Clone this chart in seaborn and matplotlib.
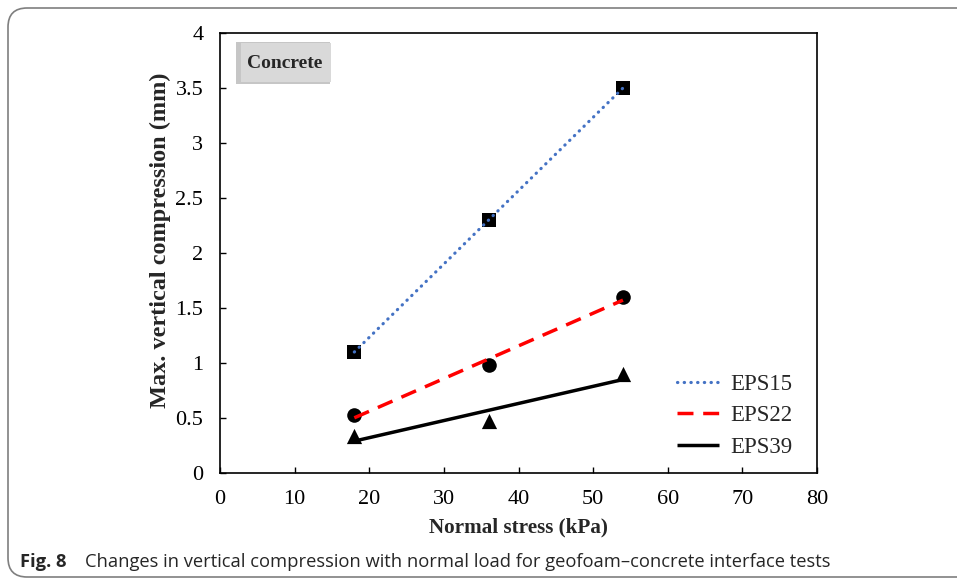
import matplotlib
matplotlib.use("Agg")
import matplotlib.pyplot as plt
import seaborn as sns
import pandas as pd
from matplotlib.patches import FancyBboxPatch, Rectangle

# ---- data ----
stress = [18, 36, 54]
eps15 = [1.1, 2.3, 3.5]
eps22 = [0.53, 0.98, 1.6]
eps39 = [0.34, 0.47, 0.9]
series_names = ["EPS15", "EPS22", "EPS39"]
x_ticks = [0, 10, 20, 30, 40, 50, 60, 70, 80]
y_ticks = [0, 0.5, 1, 1.5, 2, 2.5, 3, 3.5, 4]
y_ticklabels = ["0", "0.5", "1", "1.5", "2", "2.5", "3", "3.5", "4"]

sns.set_style("ticks")
plt.rcParams["font.family"] = ["Liberation Serif", "DejaVu Serif"]

W, H = 957, 581
fig = plt.figure(figsize=(W / 100, H / 100), dpi=100)
ax = fig.add_axes([220 / W, 1 - 473 / H, (817 - 220) / W, (473 - 33) / H])

series = [eps15, eps22, eps39]
markers = ["s", "o", "^"]
line_colors = ["#4472C4", "#FF0000", "#000000"]
line_styles = [(0, (0.1, 2.0)), (0, (4.6, 2.8)), "-"]
line_widths = [2.3, 2.5, 2.5]
capstyles = ["round", "butt", "butt"]
msizes = [110, 110, 120]

for name, vals, mk, col, ls, lw, cs, ms in zip(series_names, series, markers,
                                               line_colors, line_styles,
                                               line_widths, capstyles, msizes):
    df = pd.DataFrame({"stress": stress, "val": vals})
    sns.scatterplot(data=df, x="stress", y="val", marker=mk, color="black",
                    s=ms, edgecolor="black", linewidth=0, ax=ax, zorder=2,
                    legend=False)
    sns.regplot(data=df, x="stress", y="val", scatter=False, ci=None,
                color=col, label=name, ax=ax,
                line_kws=dict(linestyle=ls, linewidth=lw,
                              dash_capstyle=cs, solid_capstyle="butt",
                              zorder=3))

ax.set_xlim(0, 80)
ax.set_ylim(0, 4)
ax.set_xticks(x_ticks)
ax.set_xticklabels([str(t) for t in x_ticks])
ax.set_yticks(y_ticks)
ax.set_yticklabels(y_ticklabels)
ax.tick_params(direction="in", length=4, width=1, labelsize=16, color="black",
               labelcolor="black")
ax.tick_params(axis="x", pad=12)
ax.tick_params(axis="y", pad=12)
for sp in ax.spines.values():
    sp.set_visible(True)
    sp.set_color("black")
    sp.set_linewidth(1.2)

ax.set_xlabel("Normal stress (kPa)", fontsize=15.2, fontweight="bold", labelpad=6)
ax.set_ylabel("Max. vertical compression (mm)", fontsize=17.5, fontweight="bold")
ax.yaxis.set_label_coords((171 - 220) / (817 - 220), (473 - 240) / (473 - 33))

leg = ax.legend(loc="upper left", bbox_to_anchor=(656 / W, 1 - 353 / H),
                bbox_transform=fig.transFigure, frameon=False, fontsize=16.5,
                handlelength=1.85, labelspacing=0.47, handletextpad=0.5)

# "Concrete" label box with shadow
ax.add_patch(Rectangle((236 / W, 1 - 84 / H), 94 / W, 42 / H,
                       transform=fig.transFigure, facecolor="#b8b8b8",
                       edgecolor="none", alpha=0.8, zorder=4))
ax.add_patch(Rectangle((241 / W, 1 - 82 / H), 90 / W, 39 / H,
                       transform=fig.transFigure, facecolor="#d9d9d9",
                       edgecolor="none", zorder=5))
fig.text(285 / W, 1 - 63 / H, "Concrete", fontsize=14, fontweight="bold",
         ha="center", va="center", zorder=6)

# outer panel border
fig.patches.append(FancyBboxPatch((8 / W, 4 / H), 1.2, (577 - 8) / H,
                                  boxstyle="round,pad=0,rounding_size=0.02",
                                  transform=fig.transFigure, facecolor="none",
                                  edgecolor="#7f7f7f", linewidth=1.2,
                                  mutation_aspect=W / H))

# caption
fig.text(20 / W, 1 - 562 / H, "Fig. 8", fontsize=13.2, fontweight="bold",
         family="Open Sans", ha="left", va="center")
fig.text(85 / W, 1 - 562 / H,
         "Changes in vertical compression with normal load for geofoam\u2013concrete interface tests",
         fontsize=13.2, family="Open Sans", ha="left", va="center")

fig.savefig("out.png", dpi=100)
